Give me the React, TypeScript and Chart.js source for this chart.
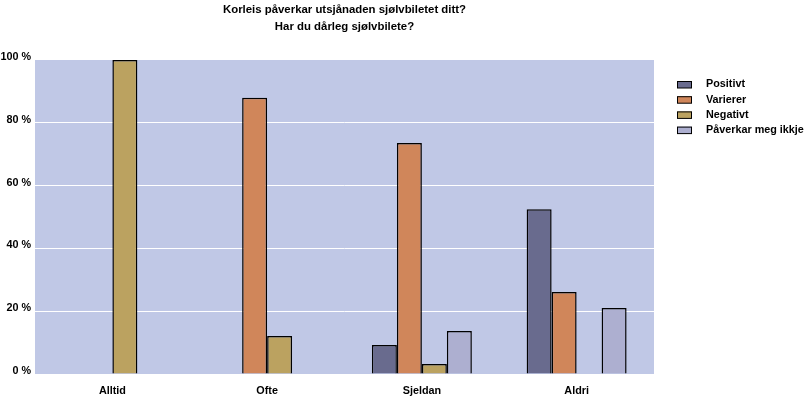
import React, { useEffect, useRef } from "react";
import { Chart, registerables } from "chart.js";

Chart.register(...registerables);

const titleLines = ["Korleis påverkar utsjånaden sjølvbiletet ditt?", "Har du dårleg sjølvbilete?"];
const categories = ["Alltid", "Ofte", "Sjeldan", "Aldri"];
const seriesNames = ["Positivt", "Varierer", "Negativt", "Påverkar meg ikkje"];
const positivt = [null, null, 9.2, 52.5];
const varierer = [null, 88, 73.6, 26.1];
const negativt = [100, 12.1, 3.2, null];
const paverkar = [null, null, 13.7, 21.0];
const yTicks = [0, 20, 40, 60, 80, 100];

const colors = ["#696b8e", "#d0865a", "#bba260", "#adafd0"];
const FONT = "'Liberation Sans', Arial, sans-serif";

const bgPlugin = {
  id: "plotBg",
  beforeDraw(chart: any) {
    const { ctx, chartArea } = chart;
    ctx.save();
    ctx.fillStyle = "#c0c8e6";
    ctx.fillRect(chartArea.left, chartArea.top, chartArea.right - chartArea.left, chartArea.bottom - chartArea.top);
    ctx.restore();
  },
};

const titlePlugin = {
  id: "customTitle",
  afterDraw(chart: any) {
    const { ctx, chartArea } = chart;
    const cx = (chartArea.left + chartArea.right) / 2;
    ctx.save();
    ctx.fillStyle = "#000";
    ctx.font = `bold 11.4px ${FONT}`;
    ctx.textAlign = "center";
    ctx.textBaseline = "alphabetic";
    ctx.fillText(titleLines[0], cx, 12.5);
    ctx.fillText(titleLines[1], cx, 30);
    ctx.restore();
  },
};

const legendPlugin = {
  id: "customLegend",
  afterDraw(chart: any) {
    const { ctx } = chart;
    ctx.save();
    ctx.font = `bold 10.8px ${FONT}`;
    ctx.textAlign = "left";
    ctx.textBaseline = "middle";
    chart.data.datasets.forEach((ds: any, i: number) => {
      const y = 84.5 + i * 15.2;
      ctx.fillStyle = ds.backgroundColor;
      ctx.fillRect(677, y - 3.5, 15, 7);
      ctx.strokeStyle = "#000";
      ctx.lineWidth = 1;
      ctx.strokeRect(677.5, y - 3, 14, 6.5);
      ctx.fillStyle = "#000";
      ctx.fillText(ds.label, 706, y);
    });
    ctx.restore();
  },
};

export default function App() {
  const ref = useRef<HTMLCanvasElement>(null);
  useEffect(() => {
    if (!ref.current) return;
    const values = [positivt, varierer, negativt, paverkar];
    const chart = new Chart(ref.current, {
      type: "bar",
      data: {
        labels: categories,
        datasets: seriesNames.map((name, i) => ({
          label: name,
          data: values[i],
          backgroundColor: colors[i],
          borderColor: "#000",
          borderWidth: 1.5,
          barPercentage: 1,
          categoryPercentage: 0.646,
        })),
      },
      options: {
        animation: false,
        responsive: false,
        maintainAspectRatio: false,
        layout: { padding: { top: 60, right: 156, left: 0, bottom: 0 } },
        plugins: {
          legend: { display: false },
          title: { display: false },
          tooltip: { enabled: false },
        },
        scales: {
          x: {
            grid: { display: false, drawTicks: false },
            border: { display: false },
            ticks: {
              color: "#000",
              font: { family: FONT, size: 10.8, weight: "bold" },
              padding: 11,
            },
            afterFit(scale: any) {
              scale.height = 27;
            },
          },
          y: {
            min: 0,
            max: 100,
            afterBuildTicks(scale: any) {
              scale.ticks = yTicks.map((v) => ({ value: v }));
            },
            grid: {
              drawTicks: false,
              color: (c: any) => (c.tick && (c.tick.value === 0 || c.tick.value === 100) ? "rgba(0,0,0,0)" : "#ffffff"),
              lineWidth: 1,
            },
            border: { display: false },
            ticks: {
              color: "#000",
              font: { family: FONT, size: 10.8, weight: "bold" },
              padding: 4,
              labelOffset: -3,
              callback: (v: any) => `${v} %`,
            },
            afterFit(scale: any) {
              scale.width = 35;
            },
          },
        },
      },
      plugins: [bgPlugin, titlePlugin, legendPlugin],
    } as any);
    return () => chart.destroy();
  }, []);
  return (
    <div style={{ position: "absolute", left: 0, top: 0, width: 810, height: 401, background: "#fff" }}>
      <canvas ref={ref} width={810} height={401} style={{ display: "block", width: 810, height: 401 }} />
    </div>
  );
}
